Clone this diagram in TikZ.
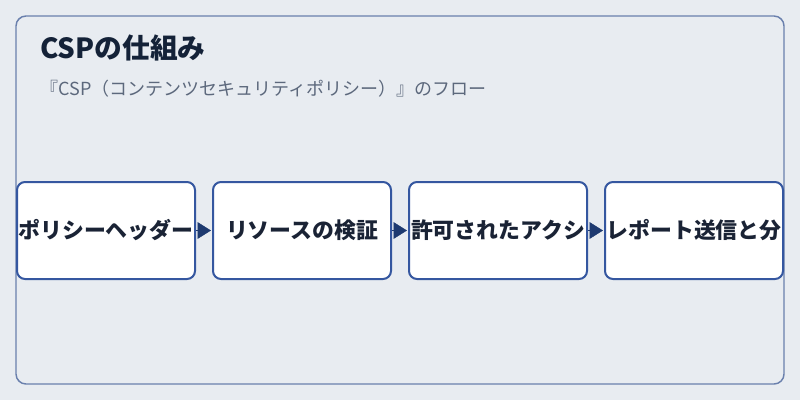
\documentclass[tikz,border=0pt]{standalone}
\usepackage{fontspec}
\setmainfont{Noto Sans CJK JP}
\usetikzlibrary{positioning,arrows.meta}

\definecolor{pagebg}{HTML}{E8ECF1}
\definecolor{frameline}{HTML}{6A80AD}
\definecolor{boxline}{HTML}{3557A0}
\definecolor{arrowcol}{HTML}{1E3A70}
\definecolor{titlecol}{HTML}{142238}
\definecolor{boxtext}{HTML}{1A2335}
\definecolor{subcol}{HTML}{5C687C}

\begin{document}
\begin{tikzpicture}[x=0.75pt, y=-0.75pt, line join=round,
  stepbox/.style={draw=boxline, line width=1.5pt, fill=white, rounded corners=6pt,
    minimum width=133.5pt, minimum height=72.75pt, inner sep=0pt,
    font=\bfseries\fontsize{16.4}{18}\selectfont, text=boxtext},
  flow/.style={-{Triangle[length=10pt,width=12.5pt]}, draw=arrowcol, fill=arrowcol,
    line width=0.3pt, shorten >=0.8pt},
  node distance=12pt]

  % Page and frame
  \fill[pagebg] (0,0) rectangle (800,400);
  \useasboundingbox (0,0) rectangle (800,400);
  \draw[frameline, line width=1.1pt, rounded corners=7.5pt] (16,16) rectangle (784,384);

  % Title and subtitle
  \node[anchor=base west, inner sep=0pt, text=titlecol, font=\bfseries\fontsize{20.8}{24}\selectfont]
    (title) at (40,58) {CSPの仕組み};
  \node[anchor=base west, inner sep=0pt, text=subcol, font=\fontsize{13.5}{16}\selectfont]
    (subtitle) at (40,95) {『CSP（コンテンツセキュリティポリシー）』のフロー};

  % Flow steps
  \node[stepbox] (header) at (106,230.5) {ポリシーヘッダー};
  \node[stepbox, right=of header] (check) {リソースの検証};
  \node[stepbox, right=of check] (allow) {許可されたアクシ};
  \node[stepbox, right=of allow] (report) {レポート送信と分};

  % Arrows between steps
  \draw[flow] (header) -- (check);
  \draw[flow] (check) -- (allow);
  \draw[flow] (allow) -- (report);

\end{tikzpicture}
\end{document}
